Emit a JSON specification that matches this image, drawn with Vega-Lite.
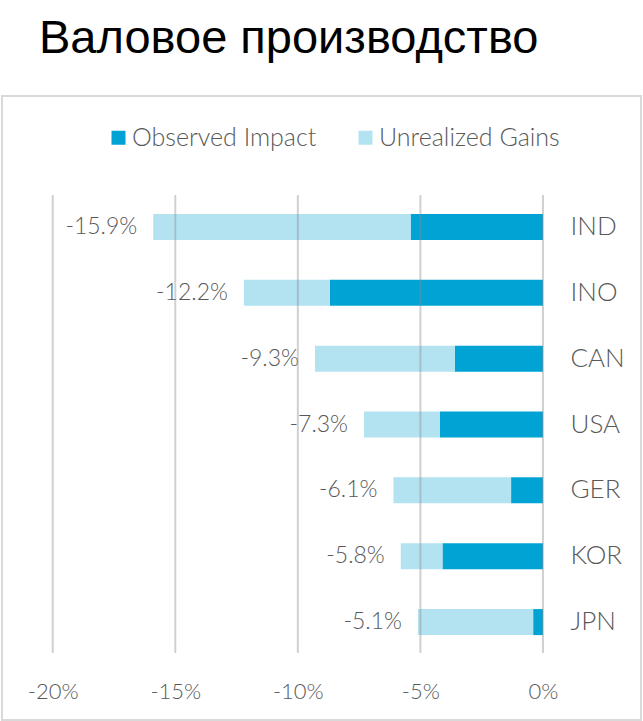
{
  "$schema": "https://vega.github.io/schema/vega-lite/v6.json",
  "width": 639,
  "height": 624,
  "autosize": {"type": "none"},
  "padding": {"left": 2, "top": 96, "right": 2, "bottom": 1},
  "background": "white",
  "title": {
    "text": "Валовое производство",
    "font": "Liberation Sans",
    "fontSize": 47,
    "fontWeight": "normal",
    "color": "#000000",
    "anchor": "start",
    "frame": "group",
    "dx": 37,
    "offset": 0,
    "dy": 4,
    "baseline": "alphabetic"
  },
  "config": {
    "locale": {
      "number": {"decimal": ".", "thousands": ",", "grouping": [3], "currency": ["$", ""], "minus": "-"}
    },
    "view": {"stroke": "#d9d9d9", "strokeWidth": 2},
    "legend": {
      "orient": "none",
      "legendX": 104,
      "legendY": 29,
      "direction": "horizontal",
      "padding": 0,
      "symbolType": "square",
      "symbolSize": 196,
      "symbolStrokeWidth": 0,
      "labelFont": "Lato",
      "labelFontWeight": 300,
      "labelFontSize": 25,
      "labelColor": "#595959",
      "labelOffset": 1,
      "labelLimit": 400,
      "columnPadding": 36
    }
  },
  "datasets": {
    "bars": [
      {"country": "IND", "type": "Observed Impact", "value": -0.054},
      {"country": "IND", "type": "Unrealized Gains", "value": -0.105},
      {"country": "INO", "type": "Observed Impact", "value": -0.087},
      {"country": "INO", "type": "Unrealized Gains", "value": -0.035},
      {"country": "CAN", "type": "Observed Impact", "value": -0.036},
      {"country": "CAN", "type": "Unrealized Gains", "value": -0.057},
      {"country": "USA", "type": "Observed Impact", "value": -0.042},
      {"country": "USA", "type": "Unrealized Gains", "value": -0.031},
      {"country": "GER", "type": "Observed Impact", "value": -0.013},
      {"country": "GER", "type": "Unrealized Gains", "value": -0.048},
      {"country": "KOR", "type": "Observed Impact", "value": -0.041},
      {"country": "KOR", "type": "Unrealized Gains", "value": -0.017},
      {"country": "JPN", "type": "Observed Impact", "value": -0.004},
      {"country": "JPN", "type": "Unrealized Gains", "value": -0.047}
    ],
    "grid": [{"v": -0.2}, {"v": -0.15}, {"v": -0.1}, {"v": -0.05}, {"v": 0}]
  },
  "layer": [
    {
      "data": {"name": "bars"},
      "mark": {"type": "bar", "size": 26},
      "encoding": {
        "x": {
          "field": "value",
          "type": "quantitative",
          "stack": "zero",
          "scale": {"domain": [-0.2207, 0.04], "nice": false, "zero": false},
          "axis": {
            "values": [-0.2, -0.15, -0.1, -0.05, 0],
            "format": ".0%",
            "grid": false,
            "domain": false,
            "ticks": false,
            "tickSize": 0,
            "orient": "bottom",
            "offset": -41,
            "labelPadding": 2,
            "labelFont": "Lato",
            "labelFontWeight": 300,
            "labelFontSize": 22,
            "labelColor": "#595959",
            "title": null
          }
        },
        "y": {
          "field": "country",
          "type": "nominal",
          "scale": {
            "domain": ["IND", "INO", "CAN", "USA", "GER", "KOR", "JPN"],
            "range": [98, 559],
            "paddingInner": 0,
            "paddingOuter": 0
          },
          "axis": {
            "orient": "right",
            "offset": -71,
            "domain": false,
            "ticks": false,
            "tickSize": 0,
            "labelPadding": 0,
            "labelAlign": "left",
            "labelFont": "Lato",
            "labelFontWeight": 300,
            "labelFontSize": 26,
            "labelColor": "#595959",
            "title": null
          }
        },
        "color": {
          "field": "type",
          "type": "nominal",
          "scale": {"domain": ["Observed Impact", "Unrealized Gains"], "range": ["#00A3D3", "#B3E3F1"]},
          "legend": {"title": null}
        }
      }
    },
    {
      "data": {"name": "bars"},
      "mark": {
        "type": "text",
        "align": "right",
        "baseline": "middle",
        "dx": -16,
        "font": "Lato",
        "fontWeight": 300,
        "fontSize": 23,
        "color": "#595959"
      },
      "encoding": {
        "x": {"aggregate": "sum", "field": "value", "type": "quantitative"},
        "y": {"field": "country", "type": "nominal"},
        "text": {"aggregate": "sum", "field": "value", "type": "quantitative", "format": ".1%"}
      }
    },
    {
      "data": {"name": "grid"},
      "mark": {
        "type": "rule",
        "color": "#8a8a8a",
        "opacity": 0.4,
        "strokeWidth": 2,
        "yOffset": -32,
        "y2Offset": 31
      },
      "encoding": {
        "x": {"field": "v", "type": "quantitative"},
        "y": {"datum": "IND", "type": "nominal"},
        "y2": {"datum": "JPN"}
      }
    }
  ]
}
